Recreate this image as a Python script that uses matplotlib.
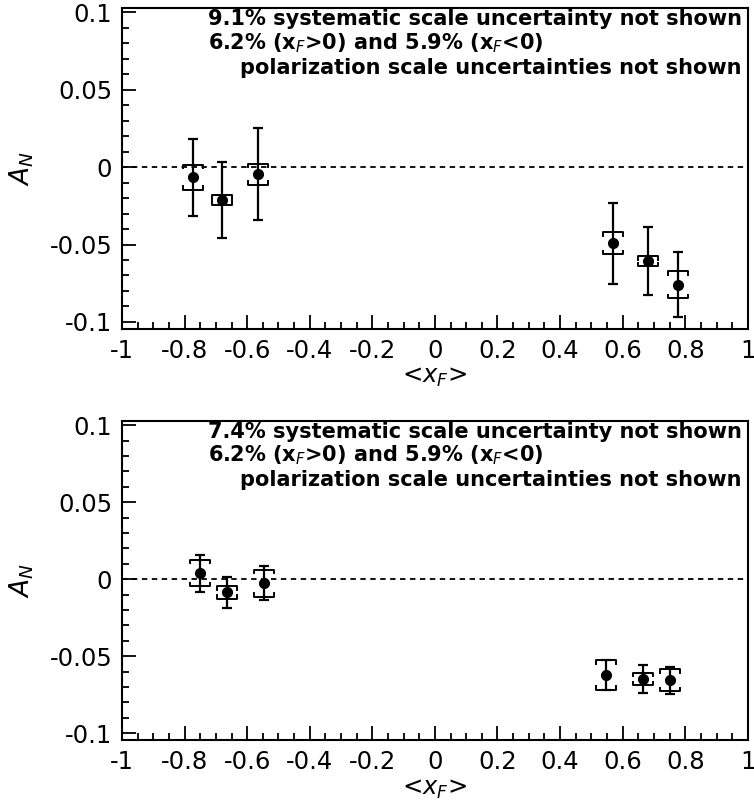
import numpy as np
import matplotlib
matplotlib.use("Agg")
import matplotlib.pyplot as plt
from matplotlib.ticker import MultipleLocator, FixedLocator

plt.rcParams['font.family'] = ['DejaVu Sans']
plt.rcParams['axes.unicode_minus'] = False

# upper panel
xf_top = [-0.773, -0.680, -0.565, 0.570, 0.681, 0.777]
an_top = [-0.0065, -0.0212, -0.0045, -0.0492, -0.0609, -0.0759]
stat_top = [0.0250, 0.0245, 0.0295, 0.0260, 0.0220, 0.0210]
sys_top = [0.0080, 0.0030, 0.0068, 0.0070, 0.0032, 0.0086]
note_top = "9.1% systematic scale uncertainty not shown"

# lower panel
xf_bot = [-0.751, -0.664, -0.545, 0.546, 0.666, 0.751]
an_bot = [0.0039, -0.0086, -0.0026, -0.0623, -0.0650, -0.0656]
stat_bot = [0.0120, 0.0103, 0.0112, 0.0097, 0.0090, 0.0088]
sys_bot = [0.0085, 0.0040, 0.0087, 0.0095, 0.0040, 0.0070]
note_bot = "7.4% systematic scale uncertainty not shown"

pol_line = r"6.2% (x$_F$>0) and 5.9% (x$_F$<0)"
pol_line2 = "polarization scale uncertainties not shown"

xticks = [-1, -0.8, -0.6, -0.4, -0.2, 0, 0.2, 0.4, 0.6, 0.8, 1]
xticklabels = ["-1", "-0.8", "-0.6", "-0.4", "-0.2", "0", "0.2", "0.4", "0.6", "0.8", "1"]
yticks = [-0.1, -0.05, 0, 0.05, 0.1]
yticklabels = ["-0.1", "-0.05", "0", "0.05", "0.1"]


def draw_panel(ax, x, y, stat, sys, note):
    ax.axhline(0, color='black', lw=1.3, ls=(0, (3, 2.5)), zorder=1)
    ax.errorbar(x, y, yerr=stat, fmt='o', color='black', ms=7,
                elinewidth=1.6, capsize=3.5, capthick=1.6, zorder=3)
    # systematic brackets
    w, d = 0.032, 0.0022
    for xi, yi, si in zip(x, y, sys):
        ax.plot([xi - w, xi - w, xi + w, xi + w],
                [yi + si - d, yi + si, yi + si, yi + si - d],
                color='black', lw=1.4, zorder=2)
        ax.plot([xi - w, xi - w, xi + w, xi + w],
                [yi - si + d, yi - si, yi - si, yi - si + d],
                color='black', lw=1.4, zorder=2)

    ax.set_xlim(-1, 1)
    ax.set_ylim(-0.1045, 0.1028)
    ax.xaxis.set_major_locator(FixedLocator(xticks))
    ax.set_xticklabels(xticklabels)
    ax.xaxis.set_minor_locator(MultipleLocator(0.05))
    ax.yaxis.set_major_locator(FixedLocator(yticks))
    ax.set_yticklabels(yticklabels)
    ax.yaxis.set_minor_locator(MultipleLocator(0.01))
    ax.tick_params(which='both', direction='in', top=False, right=False,
                   labelsize=17.5, width=1.3)
    ax.tick_params(which='major', length=10, pad=7)
    ax.tick_params(which='minor', length=5)
    for s in ax.spines.values():
        s.set_linewidth(1.5)

    ax.set_ylabel(r"$A_N$", fontsize=19, labelpad=10)
    ax.set_xlabel(r"<$x_F$>", fontsize=17.5, labelpad=2)

    ax.text(0.981, 0.0958, note, fontsize=15, fontweight='bold',
            ha='right', va='center')
    ax.text(-0.725, 0.0804, pol_line, fontsize=15, fontweight='bold',
            ha='left', va='center')
    ax.text(0.981, 0.0643, pol_line2, fontsize=15, fontweight='bold',
            ha='right', va='center')


fig = plt.figure(figsize=(7.54, 8.10), dpi=100)
ax1 = fig.add_axes([0.1618, 0.594, 0.830, 0.396])
ax2 = fig.add_axes([0.1618, 0.0864, 0.830, 0.394])

draw_panel(ax1, xf_top, an_top, stat_top, sys_top, note_top)
draw_panel(ax2, xf_bot, an_bot, stat_bot, sys_bot, note_bot)

fig.savefig("out.png", dpi=100)
